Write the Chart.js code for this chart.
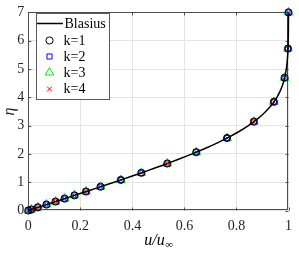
<!DOCTYPE html>
<html><head><meta charset="utf-8">
<script src="https://cdn.jsdelivr.net/npm/chart.js@4.4.1/dist/chart.umd.min.js"></script>
<style>html,body{margin:0;padding:0;background:#fff}#c{display:block}</style>
</head><body>
<canvas id="c" width="299" height="253"></canvas>
<script>
// Blasius curve (eta, u/uinf)
const etaCurve = [0,0.2,0.4,0.6,0.8,1.0,1.2,1.4,1.6,1.8,2.0,2.2,2.4,2.6,2.8,3.0,3.2,3.4,3.6,3.8,4.0,4.2,4.4,4.6,4.8,5.0,5.2,5.4,5.6,5.8,6.0,6.2,6.4,6.6,6.8,7.0];
const uCurve = [0,0.06641,0.13277,0.19894,0.26471,0.32979,0.39378,0.45627,0.51676,0.57477,0.62977,0.68132,0.72899,0.77246,0.81152,0.84605,0.87609,0.90177,0.92333,0.94112,0.95552,0.96696,0.97587,0.98269,0.98779,0.99155,0.99425,0.99616,0.99748,0.99838,0.99898,0.99937,0.99961,0.99977,0.99987,0.99994];
// marker points (same for k=1..4)
const etaPts = [0,0.035,0.11,0.21,0.315,0.42,0.535,0.67,0.84,1.08,1.33,1.66,2.06,2.56,3.14,3.84,4.69,5.72,7.0];
const uK1 = [0,0.0116,0.0365,0.0697,0.1046,0.1394,0.1774,0.2218,0.2777,0.3556,0.4344,0.5342,0.6453,0.7638,0.8671,0.9440,0.9850,0.9980,0.99994];
const uK2 = uK1.slice();
const uK3 = uK1.slice();
const uK4 = uK1.slice();
const xTicks = [0,0.2,0.4,0.6,0.8,1];
const yTicks = [0,1,2,3,4,5,6,7];
const labels = ['Blasius','k=1','k=2','k=3','k=4'];

const pts = (u) => u.map((v,i)=>({x:v,y:etaPts[i]}));
const SERIF = '"Liberation Serif", "DejaVu Serif", serif';

const boxPlugin = {
  id:'box',
  beforeDatasetsDraw(chart){
    const {ctx, chartArea:a, scales:{x,y}} = chart;
    ctx.save();
    ctx.strokeStyle = '#4d4d4d'; ctx.lineWidth = 1;
    ctx.strokeRect(Math.round(a.left)+0.5, Math.round(a.top)+0.5, Math.round(a.right-a.left)-1, Math.round(a.bottom-a.top)-1);
    ctx.beginPath();
    const L=3;
    xTicks.forEach(t=>{const px=Math.round(x.getPixelForValue(t))+0.5;
      ctx.moveTo(px,a.bottom); ctx.lineTo(px,a.bottom-L);
      ctx.moveTo(px,a.top); ctx.lineTo(px,a.top+L);});
    yTicks.forEach(t=>{const py=Math.round(y.getPixelForValue(t))+0.5;
      ctx.moveTo(a.left,py); ctx.lineTo(a.left+L,py);
      ctx.moveTo(a.right,py); ctx.lineTo(a.right-L,py);});
    ctx.stroke();
    ctx.restore();
  },
  afterDraw(chart){
    const {ctx, chartArea:a} = chart;
    ctx.save();
    // x title u/u_inf
    const cx = (a.left+a.right)/2, by = 245;
    ctx.fillStyle = '#000';
    ctx.textBaseline = 'alphabetic';
    const main = 'u/u';
    ctx.font = 'italic 16px '+SERIF;
    const w1 = ctx.measureText(main).width;
    ctx.font = '11px '+SERIF;
    const w2 = ctx.measureText('\u221E').width;
    const x0 = cx - (w1+w2)/2;
    ctx.font = 'italic 16px '+SERIF;
    ctx.textAlign='left';
    ctx.fillText(main, x0, by);
    ctx.font = '11px '+SERIF;
    ctx.fillText('\u221E', x0+w1+0.5, by+3);
    // legend
    const lx=36, ly=13, lw=73, lh=86;
    ctx.fillStyle='#fff'; ctx.fillRect(lx,ly,lw,lh);
    ctx.strokeStyle='#5a5a5a'; ctx.lineWidth=1;
    ctx.strokeRect(lx+0.5,ly+0.5,lw,lh);
    const rows=[23.5,40.5,56.5,72.5,89];
    chart.data.datasets.forEach((ds,i)=>{
      const yy=rows[i];
      if(i===0){
        ctx.strokeStyle='#000'; ctx.lineWidth=1.5;
        ctx.beginPath(); ctx.moveTo(37,yy); ctx.lineTo(63,yy); ctx.stroke();
      } else {
        ctx.fillStyle='rgba(0,0,0,0)';
        ctx.strokeStyle=ds.borderColor; ctx.lineWidth=ds.borderWidth;
        Chart.helpers.drawPoint(ctx,{pointStyle:ds.pointStyle,radius:ds.pointRadius,borderWidth:ds.borderWidth,rotation:0},49.5,yy);
      }
      ctx.font='14px '+SERIF; ctx.textBaseline='middle'; ctx.textAlign='left';
      ctx.fillStyle='#000';
      ctx.fillText(labels[i], i===0?64.5:63.5, yy+0.5);
    });
    ctx.restore();
  }
};

new Chart(document.getElementById('c'), {
  type:'scatter',
  data:{datasets:[
    {label:labels[0], data:uCurve.map((v,i)=>({x:v,y:etaCurve[i]})), showLine:true, borderColor:'#000', borderWidth:1.5, pointRadius:0, fill:false, clip:false, tension:0.3},
    {label:labels[1], data:pts(uK1), showLine:false, pointStyle:'circle', pointRadius:3.6, borderColor:'#000', backgroundColor:'rgba(0,0,0,0)', borderWidth:1, clip:false},
    {label:labels[2], data:pts(uK2), showLine:false, pointStyle:'rect', pointRadius:3.6, borderColor:'#0000ff', backgroundColor:'rgba(0,0,0,0)', borderWidth:1, clip:false},
    {label:labels[3], data:pts(uK3), showLine:false, pointStyle:'triangle', pointRadius:5, borderColor:'#00ee00', backgroundColor:'rgba(0,0,0,0)', borderWidth:1, clip:false},
    {label:labels[4], data:pts(uK4), showLine:false, pointStyle:'crossRot', pointRadius:3.4, borderColor:'#ff0000', backgroundColor:'rgba(0,0,0,0)', borderWidth:1, clip:false}
  ]},
  options:{
    responsive:false, animation:false, devicePixelRatio:1,
    layout:{padding:{top:8,right:5,left:0,bottom:0}},
    plugins:{legend:{display:false}, tooltip:{enabled:false}},
    scales:{
      x:{type:'linear', min:0, max:1,
        afterBuildTicks:(s)=>{s.ticks=xTicks.map(v=>({value:v}));},
        afterFit:(s)=>{s.height=42.5;},
        grid:{color:'#e4e4e4', drawTicks:false},
        border:{display:false},
        ticks:{padding:7, color:'#262626', font:{family:SERIF,size:14}, maxRotation:0,
          callback:(v)=>String(v)}
      },
      y:{type:'linear', min:0, max:7,
        afterBuildTicks:(s)=>{s.ticks=yTicks.map(v=>({value:v}));},
        afterFit:(s)=>{s.width=28.3;},
        grid:{color:'#e4e4e4', drawTicks:false},
        border:{display:false},
        ticks:{padding:4, color:'#262626', font:{family:SERIF,size:14}, callback:(v)=>String(v)},
        title:{display:true, text:'\u03B7', color:'#262626', font:{family:SERIF,size:16,style:'italic'}, padding:{top:0,bottom:0}}
      }
    }
  },
  plugins:[boxPlugin]
});
</script>
</body></html>
